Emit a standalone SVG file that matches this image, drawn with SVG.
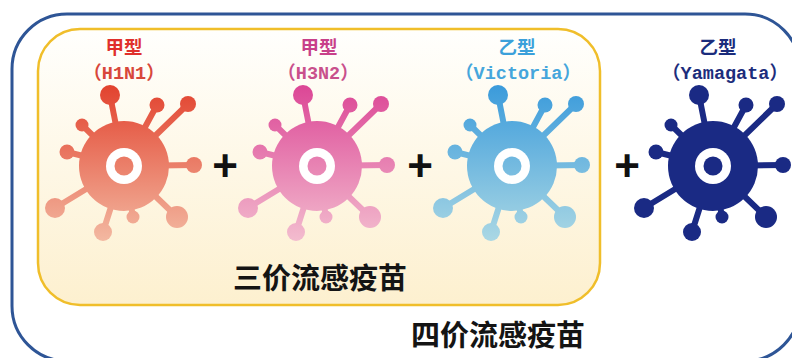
<svg xmlns="http://www.w3.org/2000/svg" xmlns:xlink="http://www.w3.org/1999/xlink" width="792" height="358" viewBox="0 0 792 358">
  <defs>
    <style>
      .title { font-family: "Noto Sans CJK SC", "Noto Sans", sans-serif; font-weight: 700; font-size: 18.5px; text-anchor: middle; }
      .sub { font-family: "Liberation Mono", "Noto Sans CJK SC", monospace; font-weight: 700; font-size: 18.5px; text-anchor: middle; }
      .plus { font-family: "Liberation Sans", Arial, sans-serif; font-weight: 700; font-size: 44px; text-anchor: middle; fill: #111111; }
      .big { font-family: "Noto Sans CJK SC", "Noto Sans", sans-serif; font-weight: 700; font-size: 29px; text-anchor: middle; fill: #141414; }
      .ball { stroke: none; }
      .stem { stroke-width: 6; stroke-linecap: round; fill: none; }
    </style>

    <linearGradient id="panel" x1="0" y1="0" x2="0" y2="1">
      <stop offset="0" stop-color="#FFFFFD"/>
      <stop offset="1" stop-color="#FDF0CF"/>
    </linearGradient>

    <!-- virus body colours, in the local space of the shape (centre at 0,0) -->
    <linearGradient id="gRed" gradientUnits="userSpaceOnUse" x1="0" y1="-80" x2="0" y2="76">
      <stop offset="0" stop-color="#E2432F"/>
      <stop offset="1" stop-color="#F3B9A2"/>
    </linearGradient>
    <linearGradient id="gPink" gradientUnits="userSpaceOnUse" x1="0" y1="-80" x2="0" y2="76">
      <stop offset="0" stop-color="#DC4796"/>
      <stop offset="1" stop-color="#F3BDCF"/>
    </linearGradient>
    <linearGradient id="gBlue" gradientUnits="userSpaceOnUse" x1="0" y1="-80" x2="0" y2="76">
      <stop offset="0" stop-color="#3B9BDB"/>
      <stop offset="1" stop-color="#ABD8E4"/>
    </linearGradient>

    <!-- shared virus shape; fill and stroke come from the <use> -->
    <g id="virus">
      <line class="stem" x1="0" y1="0" x2="-14" y2="-71"/>
      <line class="stem" x1="0" y1="0" x2="33" y2="-61"/>
      <line class="stem" x1="0" y1="0" x2="64" y2="-62"/>
      <line class="stem" x1="0" y1="0" x2="-42" y2="-41"/>
      <line class="stem" x1="0" y1="0" x2="-57" y2="-14"/>
      <line class="stem" x1="0" y1="0" x2="70" y2="-1"/>
      <line class="stem" x1="0" y1="0" x2="-69" y2="42"/>
      <line class="stem" x1="0" y1="0" x2="-21" y2="66"/>
      <line class="stem" x1="0" y1="0" x2="9" y2="51"/>
      <line class="stem" x1="0" y1="0" x2="53" y2="51"/>
      <circle class="ball" cx="-14" cy="-71" r="10"/>
      <circle class="ball" cx="33" cy="-61" r="7.5"/>
      <circle class="ball" cx="64" cy="-62" r="8"/>
      <circle class="ball" cx="-42" cy="-41" r="6.5"/>
      <circle class="ball" cx="-57" cy="-14" r="7.5"/>
      <circle class="ball" cx="70" cy="-1" r="8"/>
      <circle class="ball" cx="-69" cy="42" r="10"/>
      <circle class="ball" cx="-21" cy="66" r="9"/>
      <circle class="ball" cx="9" cy="51" r="6.5"/>
      <circle class="ball" cx="53" cy="51" r="11"/>
      <circle class="ball" cx="0" cy="0" r="45"/>
      <circle cx="0" cy="0" r="18" fill="#FFFFFF" stroke="none"/>
      <circle class="ball" cx="0" cy="0" r="9.5"/>
    </g>
  </defs>

  <rect width="792" height="358" fill="#FFFFFF"/>

  <!-- quadrivalent frame -->
  <g id="quadrivalent">
    <rect x="12" y="14" width="788" height="347" rx="55" ry="55" fill="none" stroke="#2E5596" stroke-width="3"/>
    <text class="big" x="498" y="346">四价流感疫苗</text>
  </g>

  <!-- trivalent panel -->
  <g id="trivalent">
    <rect x="38" y="29" width="562" height="276" rx="42" ry="42" fill="url(#panel)" stroke="#F0BE2A" stroke-width="2.5"/>
    <text class="big" x="320" y="289">三价流感疫苗</text>
  </g>

  <g id="h1n1">
    <text class="title" x="124" y="54" fill="#E0302C">甲型</text>
    <text class="sub" x="124" y="79" fill="#D8473B">（H1N1）</text>
    <use xlink:href="#virus" transform="translate(124 166)" fill="url(#gRed)" stroke="url(#gRed)"/>
  </g>

  <g id="h3n2">
    <text class="title" x="319" y="54" fill="#C8408A">甲型</text>
    <text class="sub" x="318" y="79" fill="#C9508C">（H3N2）</text>
    <use xlink:href="#virus" transform="translate(317 166)" fill="url(#gPink)" stroke="url(#gPink)"/>
  </g>

  <g id="victoria">
    <text class="title" x="517" y="54" fill="#3BA0DA">乙型</text>
    <text class="sub" x="518" y="79" fill="#45A6DC">（Victoria）</text>
    <use xlink:href="#virus" transform="translate(512 166)" fill="url(#gBlue)" stroke="url(#gBlue)"/>
  </g>

  <g id="yamagata">
    <text class="title" x="718" y="54" fill="#1B2C7C">乙型</text>
    <text class="sub" x="725" y="79" fill="#1D2D7C">（Yamagata）</text>
    <use xlink:href="#virus" transform="translate(713 166)" fill="#1A2A84" stroke="#1A2A84"/>
  </g>

  <g id="connectors">
    <text class="plus" x="225" y="181">+</text>
    <text class="plus" x="420" y="181">+</text>
    <text class="plus" x="627" y="181">+</text>
  </g>
</svg>
